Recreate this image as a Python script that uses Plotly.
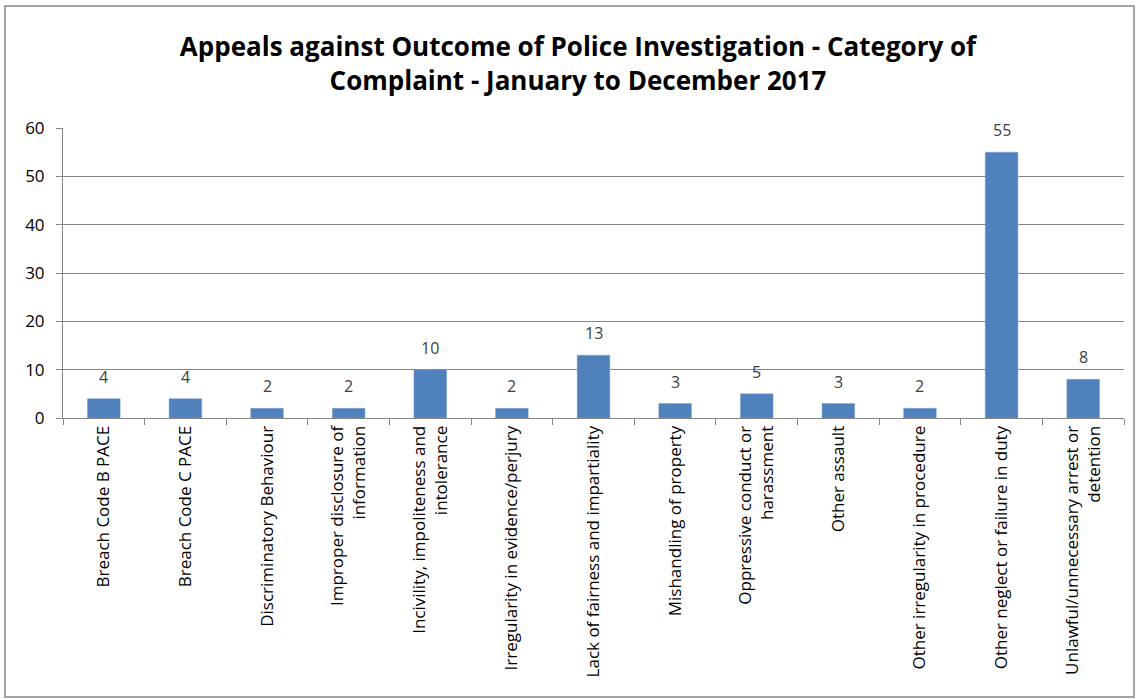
import plotly.graph_objects as go

categories = [
    "Breach Code B PACE",
    "Breach Code C PACE",
    "Discriminatory Behaviour",
    "Improper disclosure of<br>information",
    "Incivility, impoliteness and<br>intolerance",
    "Irregularity in evidence/perjury",
    "Lack of fairness and impartiality",
    "Mishandling of property",
    "Oppressive conduct or<br>harassment",
    "Other assault",
    "Other irregularity in procedure",
    "Other neglect or failure in duty",
    "Unlawful/unnecessary arrest or<br>detention",
]
values = [4, 4, 2, 2, 10, 2, 13, 3, 5, 3, 2, 55, 8]
y_ticks = [0, 10, 20, 30, 40, 50, 60]

W, H = 1139, 699
L, R, T, B = 63, 15, 128, 281
pw = W - L - R
ph = H - T - B

FONT = "Open Sans"

fig = go.Figure(go.Bar(
    x=categories, y=values,
    marker=dict(color="#4F81BD", line=dict(color="#7FA3D0", width=0.5)),
))

for c, v in zip(categories, values):
    fig.add_annotation(
        x=c, y=v, text=str(v), showarrow=False,
        xanchor="center", yanchor="bottom", yshift=9,
        font=dict(family=FONT, size=16, color="#404040"),
    )

fig.update_layout(
    width=W, height=H,
    margin=dict(l=L, r=R, t=T, b=B),
    paper_bgcolor="white", plot_bgcolor="white",
    bargap=0.6,
    showlegend=False,
    title=dict(
        text="Appeals against Outcome of Police Investigation - Category of<br>Complaint - January to December 2017",
        x=578 / W, xanchor="center", xref="container",
        y=1 - 56 / H, yanchor="middle", yref="container",
        font=dict(family=FONT, size=26, color="black", weight="bold"),
    ),
    font=dict(family=FONT, color="black"),
)
fig.update_xaxes(
    tickangle=-90, tickfont=dict(family=FONT, size=17, color="black"),
    showline=True, linecolor="#868686", linewidth=1,
    ticks="outside", tickson="boundaries", ticklen=6, tickcolor="#868686",
    showgrid=False,
)
fig.update_yaxes(
    range=[0, 60], tickvals=y_ticks, ticktext=[str(v) for v in y_ticks],
    tickfont=dict(family=FONT, size=17, color="black"),
    showline=True, linecolor="#868686", linewidth=1,
    ticks="outside", ticklen=6, tickcolor="#868686", ticklabelstandoff=8,
    showgrid=True, gridcolor="#868686", gridwidth=1,
    zeroline=False,
)
fig.add_shape(
    type="rect", xref="paper", yref="paper",
    x0=(5 - L) / pw, x1=(1134 - L) / pw,
    y0=(T + ph - 697) / ph, y1=(T + ph - 6) / ph,
    line=dict(color="#868686", width=1.5), fillcolor="rgba(0,0,0,0)",
)
fig.write_html("out.html", config={"displayModeBar": False},
               post_script="document.body.style.margin='0';")
